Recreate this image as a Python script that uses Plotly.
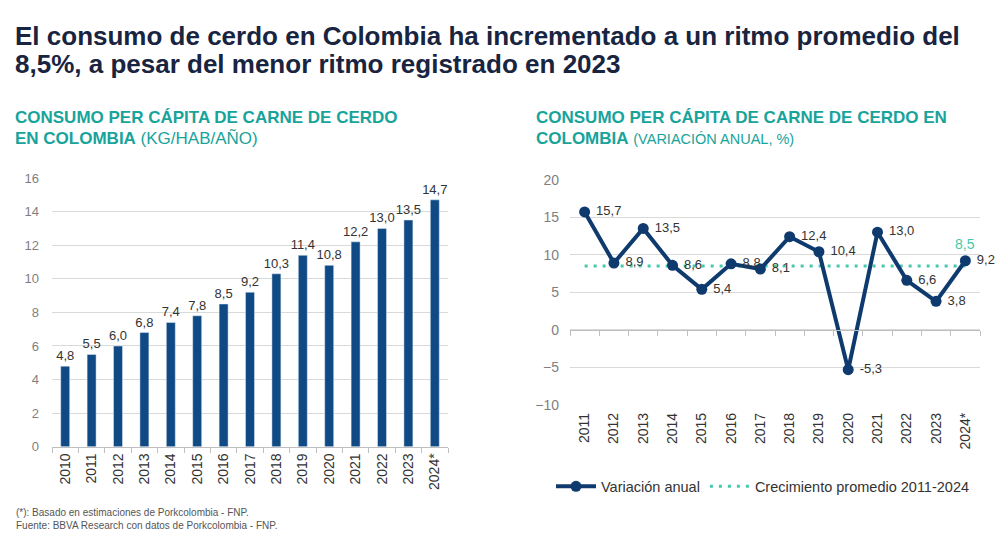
import plotly.graph_objects as go

# ---- data ----
years_bar = ["2010", "2011", "2012", "2013", "2014", "2015", "2016", "2017",
             "2018", "2019", "2020", "2021", "2022", "2023", "2024*"]
consumo_kg = [4.8, 5.5, 6.0, 6.8, 7.4, 7.8, 8.5, 9.2, 10.3, 11.4, 10.8, 12.2, 13.0, 13.5, 14.7]

years_line = ["2011", "2012", "2013", "2014", "2015", "2016", "2017", "2018",
              "2019", "2020", "2021", "2022", "2023", "2024*"]
variacion = [15.7, 8.9, 13.5, 8.6, 5.4, 8.8, 8.1, 12.4, 10.4, -5.3, 13.0, 6.6, 3.8, 9.2]
promedio = 8.5

BAR = "#0f4a85"
LINE = "#0e3a6e"
TEAL = "#18a39b"
AVG = "#45c9aa"
GRID = "#d9d9d9"
AXIS = "#bfbfbf"
TXT = "#333333"
TICKC = "#7f7f7f"
FONT = "Liberation Sans, Arial, sans-serif"

fig = go.Figure()

fig.add_trace(go.Bar(
    x=years_bar, y=consumo_kg, marker_color=BAR, width=0.34,
    text=consumo_kg, texttemplate="%{y:.1f}", textposition="outside",
    textangle=0, constraintext="none",
    textfont=dict(size=13, color=TXT), cliponaxis=False,
    xaxis="x", yaxis="y", showlegend=False, hoverinfo="x+y"))

fig.add_trace(go.Scatter(
    x=years_line, y=[promedio] * len(years_line), mode="lines",
    line=dict(color=AVG, width=3, dash="3px,6px"),
    name="Crecimiento promedio 2011-2024", xaxis="x2", yaxis="y2"))

fig.add_trace(go.Scatter(
    x=years_line, y=variacion, mode="lines+markers+text",
    line=dict(color=LINE, width=4), marker=dict(size=11, color=LINE),
    text=[" " + f"{v:.1f}".replace(".", ",") for v in variacion],
    textposition="middle right", textfont=dict(size=13, color=TXT),
    cliponaxis=False, name="Variación anual", xaxis="x2", yaxis="y2"))

# helper trace so the zero-line axis is drawn
fig.add_trace(go.Scatter(x=years_line, y=[None] * len(years_line), mode="lines",
                         xaxis="x3", yaxis="y2", showlegend=False, hoverinfo="skip"))

y2_dom = [0.248, 0.675]
y2_rng = [-10, 20]
zero_pos = y2_dom[0] + (0 - y2_rng[0]) / (y2_rng[1] - y2_rng[0]) * (y2_dom[1] - y2_dom[0])
cat_rng = [-0.5, len(years_line) - 0.5]

fig.update_layout(
    width=1000, height=544,
    margin=dict(l=0, r=0, t=0, b=0),
    paper_bgcolor="white", plot_bgcolor="white",
    font=dict(family=FONT, color=TXT),
    separators=",.",
    xaxis=dict(domain=[0.052, 0.448], anchor="y", type="category",
               showline=True, linecolor=AXIS, ticks="outside", tickson="boundaries",
               ticklen=5, tickcolor=AXIS, tickangle=-90, showgrid=False,
               tickfont=dict(size=14, color=TXT)),
    yaxis=dict(domain=[0.169, 0.678], anchor="x", range=[0, 16], dtick=2,
               showgrid=True, gridcolor=GRID, zeroline=False,
               tickfont=dict(size=13, color=TICKC), ticklabelstandoff=12),
    xaxis2=dict(domain=[0.57, 0.98], anchor="y2", type="category", range=cat_rng,
                showline=False, ticks="", tickangle=-90, showgrid=False,
                tickfont=dict(size=14, color=TXT), ticklabelstandoff=4),
    xaxis3=dict(domain=[0.57, 0.98], overlaying="x2", anchor="free", position=zero_pos,
                type="category", categoryarray=years_line, categoryorder="array",
                range=cat_rng,
                showline=True, linecolor=AXIS, ticks="outside", tickson="boundaries",
                ticklen=5, tickcolor=AXIS, showticklabels=False, showgrid=False),
    yaxis2=dict(domain=y2_dom, anchor="x2", range=y2_rng, dtick=5,
                showgrid=True, gridcolor=GRID, zeroline=False,
                tickfont=dict(size=14, color=TICKC), ticklabelstandoff=10),
    legend=dict(orientation="h", x=0.551, y=0.094, xanchor="left", yanchor="middle",
                font=dict(size=14.5, color=TXT), traceorder="reversed",
                itemwidth=40, bgcolor="rgba(0,0,0,0)"),
    showlegend=True,
)

def txt(text, x, ybase, size, color, bold=False):
    return dict(text=f"<b>{text}</b>" if bold else text, x=x / 1000, y=1 - ybase / 544,
                xref="paper", yref="paper", xanchor="left", yanchor="middle",
                align="left", showarrow=False, font=dict(size=size, color=color))

TITLE = "#182440"
annotations = [
    txt("El consumo de cerdo en Colombia ha incrementado a un ritmo promedio del", 13, 29, 26, TITLE, True),
    txt("8,5%, a pesar del menor ritmo registrado en 2023", 13, 58, 26, TITLE, True),
    txt("CONSUMO PER CÁPITA DE CARNE DE CERDO", 13, 113, 17, TEAL, True),
    txt("<b>EN COLOMBIA</b> (KG/HAB/AÑO)", 13, 134, 17, TEAL),
    txt("CONSUMO PER CÁPITA DE CARNE DE CERDO EN", 534, 113, 17, TEAL, True),
    txt("<b>COLOMBIA</b> <span style='font-size:14.5px'>(VARIACIÓN ANUAL, %)</span>", 534, 134, 17, TEAL),
    txt("(*): Basado en estimaciones de Porkcolombia - FNP.", 14, 520, 10, "#555555"),
    txt("Fuente: BBVA Research con datos de Porkcolombia - FNP.", 14, 533, 10, "#555555"),
    dict(text=f"{promedio:.1f}".replace(".", ","), x=years_line[-1], y=promedio,
         xref="x2", yref="y2", showarrow=False, yshift=22,
         font=dict(size=14, color=AVG)),
]
fig.update_layout(annotations=annotations)

fig.write_html("out.html")
